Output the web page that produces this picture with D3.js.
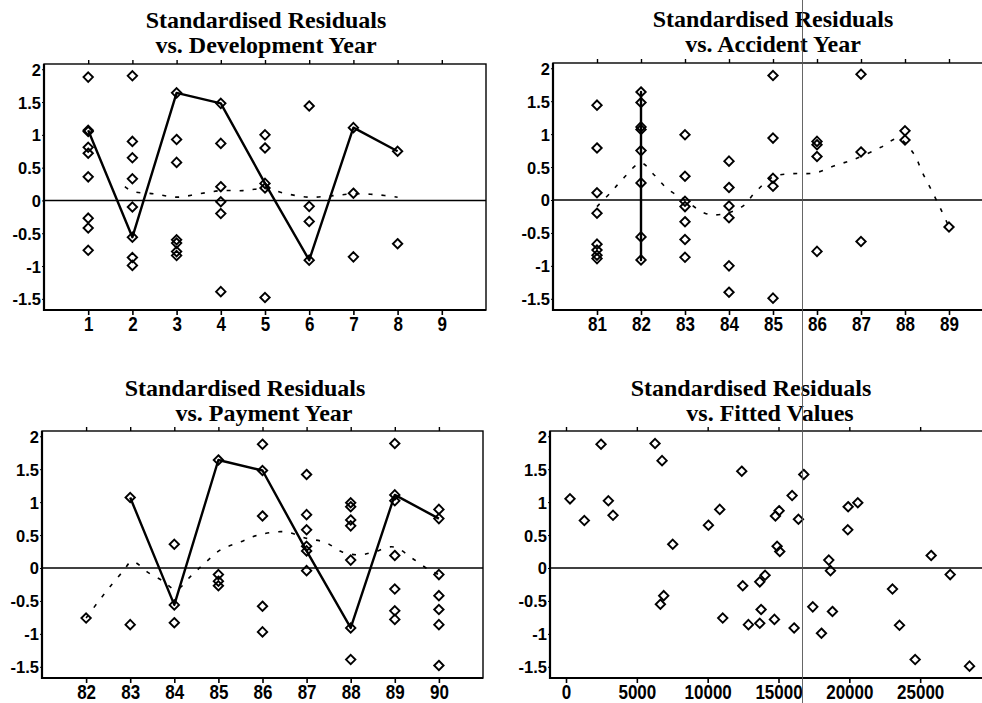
<!DOCTYPE html>
<html>
<head>
<meta charset="utf-8">
<script src="https://cdn.jsdelivr.net/npm/d3@7"></script>
<style>
  html, body { margin: 0; padding: 0; background: #fff; }
  svg { display: block; }
  .title { font-family: 'Liberation Serif', 'Times New Roman', serif; font-weight: bold; font-size: 24px; fill: #000; }
  .ylab text { font-family: 'Liberation Sans', Arial, sans-serif; font-weight: bold; font-size: 16.5px; fill: #000; }
  .xlab text { font-family: 'Liberation Sans', Arial, sans-serif; font-weight: bold; font-size: 20px; fill: #000; }
</style>
</head>
<body>
<div id="chart"></div>
<script>
// residual tick labels (shared by all four panels)
const residTicks = [-1.5, -1, -0.5, 0, 0.5, 1, 1.5, 2];

// x ticks
const devTicks = [1, 2, 3, 4, 5, 6, 7, 8, 9];
const accTicks = [81, 82, 83, 84, 85, 86, 87, 88, 89];
const payTicks = [82, 83, 84, 85, 86, 87, 88, 89, 90];
const fittedTicks = [0, 5000, 10000, 15000, 20000, 25000];

// standardised residuals grouped by development year
const devYearPoints = [
  [1, [1.88, 1.07, 1.05, 0.81, 0.72, 0.36, -0.27, -0.42, -0.76]],
  [2, [1.9, 0.9, 0.65, 0.33, -0.1, -0.56, -0.87, -0.99]],
  [3, [1.64, 0.93, 0.58, -0.6, -0.65, -0.78, -0.84]],
  [4, [1.48, 0.87, 0.21, -0.02, -0.2, -1.39]],
  [5, [1.0, 0.8, 0.26, 0.19, -1.48]],
  [6, [1.44, -0.09, -0.32, -0.91]],
  [7, [1.11, 0.11, -0.86]],
  [8, [0.75, -0.66]],
];

// grouped by accident year
const accYearPoints = [
  [81, [1.44, 0.79, 0.11, -0.2, -0.67, -0.76, -0.84, -0.89]],
  [82, [1.64, 1.48, 1.11, 1.07, 0.75, 0.26, -0.56, -0.91]],
  [83, [0.99, 0.36, -0.02, -0.1, -0.33, -0.6, -0.87]],
  [84, [0.59, 0.19, -0.09, -0.27, -1.0, -1.4]],
  [85, [1.89, 0.94, 0.33, 0.21, -1.49]],
  [86, [0.89, 0.84, 0.66, -0.78]],
  [87, [1.91, 0.73, -0.63]],
  [88, [1.05, 0.91]],
  [89, [-0.41]],
];

// grouped by payment year
const payYearPoints = [
  [82, [-0.76]],
  [83, [1.07, -0.86]],
  [84, [0.36, -0.56, -0.83]],
  [85, [1.64, -0.1, -0.2, -0.27]],
  [86, [1.88, 1.48, 0.79, -0.58, -0.97]],
  [87, [1.42, 0.81, 0.58, 0.33, 0.26, -0.04]],
  [88, [0.99, 0.93, 0.73, 0.64, 0.12, -0.91, -1.39]],
  [89, [1.89, 1.11, 1.02, 0.19, -0.32, -0.65, -0.78]],
  [90, [0.89, 0.75, -0.1, -0.42, -0.63, -0.86, -1.48]],
];

// fitted values and their residuals
const fittedValues = [282, 1295, 2472, 2990, 3319, 6285, 6780, 7533, 6897, 6662,
  10052, 10852, 11064, 12406, 12476, 12876, 13677, 14053, 13771, 13677,
  14713, 14783, 15042, 14901, 15089, 15960, 16784, 16407, 16101, 17420,
  18032, 18550, 18667, 18808, 19891, 19915, 20598, 23046, 23540, 24647,
  25776, 27119, 28484];
const fittedResiduals = [1.05, 0.72, 1.88, 1.02, 0.8, 1.89, 1.63, 0.36, -0.42, -0.55,
  0.65, 0.89, -0.76, 1.47, -0.27, -0.86, -0.21, -0.11, -0.63, -0.84,
  -0.78, 0.79, 0.87, 0.33, 0.25, 1.1, 1.42, 0.74, -0.91, -0.59,
  -0.99, 0.12, -0.04, -0.66, 0.58, 0.93, 0.99, -0.32, -0.87, -1.39,
  0.19, -0.1, -1.49];

// residuals of accident year 82 by development year 1..8 (solid line)
const ay82Residuals = [1.07, -0.56, 1.64, 1.48, 0.26, -0.91, 1.11, 0.75];

// smoothed trends (dashed)
const devSmooth = [[1.83, 0.21], [2, 0.14], [2.5, 0.1], [3, 0.05], [3.5, 0.1], [4, 0.15], [4.5, 0.15],
  [5, 0.18], [5.5, 0.1], [6, 0.05], [6.5, 0.07], [7, 0.1], [7.5, 0.09], [8, 0.05]];
const accSmooth = [[81, -0.1], [81.32, 0.12], [81.6, 0.33], [82, 0.56], [82.3, 0.38], [82.6, 0.17], [83, 0],
  [83.45, -0.2], [83.8, -0.22], [84.3, -0.1], [84.6, 0.12], [85, 0.35], [85.45, 0.4], [85.95, 0.41],
  [86.4, 0.52], [86.85, 0.62], [87.45, 0.8], [87.85, 0.93], [88.2, 0.7], [88.4, 0.41], [88.6, 0.15],
  [88.8, -0.12], [89, -0.41]];
const paySmooth = [[82, -0.76], [82.3, -0.49], [82.56, -0.27], [82.85, -0.04], [83.04, 0.1], [83.41, -0.07],
  [83.75, -0.2], [84.04, -0.33], [84.38, -0.12], [84.7, 0.08], [85.06, 0.28], [85.48, 0.39], [85.9, 0.5],
  [86.5, 0.55], [87, 0.45], [87.42, 0.39], [87.82, 0.24], [88.2, 0.2], [88.51, 0.24], [88.97, 0.32],
  [89.41, 0.14], [89.76, -0.02], [90, -0.1]];

const W = 982, H = 703;
const yDomain = [-1.67, 2.08];

const flat = groups => groups.flatMap(([x, vals]) => vals.map(v => [x, v]));

const panels = [
  {
    title: ['Standardised Residuals', 'vs. Development Year'], titleX: [266, 266], titleY: [28, 53],
    box: { left: 44, right: 486, top: 64, bottom: 310 }, xDomain: [0, 10], ticks: devTicks,
    points: flat(devYearPoints), smooth: devSmooth,
    highlight: ay82Residuals.map((v, i) => [i + 1, v]),
  },
  {
    title: ['Standardised Residuals', 'vs. Accident Year'], titleX: [773, 773], titleY: [27, 52],
    box: { left: 553, right: 993, top: 63, bottom: 310 }, xDomain: [80, 90], ticks: accTicks,
    points: flat(accYearPoints), smooth: accSmooth,
    highlight: ay82Residuals.map(v => [82, v]),
  },
  {
    title: ['Standardised Residuals', 'vs. Payment Year'], titleX: [245, 264], titleY: [396, 421],
    box: { left: 42, right: 483, top: 431, bottom: 678 }, xDomain: [81, 91], ticks: payTicks,
    points: flat(payYearPoints), smooth: paySmooth,
    highlight: ay82Residuals.map((v, i) => [83 + i, v]),
  },
  {
    title: ['Standardised Residuals', 'vs. Fitted Values'], titleX: [751, 770], titleY: [396, 421],
    box: { left: 550, right: 991, top: 431, bottom: 678 }, xDomain: [-1130, 30000], ticks: fittedTicks,
    points: fittedValues.map((f, i) => [f, fittedResiduals[i]]), smooth: null, highlight: null,
  },
];

const svg = d3.select('#chart').append('svg')
  .attr('width', W)
  .attr('height', H)
  .attr('viewBox', `0 0 ${W} ${H}`);

const diamond = r => `M0,${-r}L${r},0L0,${r}L${-r},0Z`;

panels.forEach(p => {
  const b = p.box;
  const x = d3.scaleLinear().domain(p.xDomain).range([b.left, b.right]);
  const y = d3.scaleLinear().domain(yDomain).range([b.bottom, b.top]);
  const g = svg.append('g');

  // title, two lines
  p.title.forEach((t, i) => {
    g.append('text')
      .attr('class', 'title')
      .attr('x', p.titleX[i])
      .attr('y', p.titleY[i])
      .attr('text-anchor', 'middle')
      .text(t);
  });

  // frame
  g.append('rect')
    .attr('x', b.left).attr('y', b.top)
    .attr('width', b.right - b.left).attr('height', b.bottom - b.top)
    .attr('fill', 'none').attr('stroke', '#000').attr('stroke-width', 1.4);
  g.append('path')
    .attr('d', `M${b.left},${b.top}V${b.bottom}H${b.right}`)
    .attr('fill', 'none').attr('stroke', '#000').attr('stroke-width', 2.2);

  // zero line
  g.append('line')
    .attr('x1', b.left).attr('x2', b.right)
    .attr('y1', y(0)).attr('y2', y(0))
    .attr('stroke', '#000').attr('stroke-width', 1.5);

  // bottom axis with labels
  const xb = g.append('g')
    .attr('class', 'xlab')
    .attr('transform', `translate(0,${b.bottom})`)
    .call(d3.axisBottom(x).tickValues(p.ticks).tickSize(5).tickSizeOuter(0).tickFormat(d => String(d)));
  xb.select('.domain').remove();
  xb.selectAll('line').attr('stroke-width', 1.6);
  xb.selectAll('text')
    .attr('y', 21).attr('dy', null)
    .attr('transform', 'scale(0.85,1)');

  // top axis, marks only
  const xt = g.append('g')
    .attr('transform', `translate(0,${b.top})`)
    .call(d3.axisTop(x).tickValues(p.ticks).tickSize(4).tickSizeOuter(0).tickFormat(''));
  xt.select('.domain').remove();
  xt.selectAll('line').attr('stroke-width', 1.4);

  // left axis
  const yl = g.append('g')
    .attr('class', 'ylab')
    .attr('transform', `translate(${b.left},0)`)
    .call(d3.axisLeft(y).tickValues(residTicks).tickSize(2).tickPadding(1).tickSizeOuter(0).tickFormat(d => String(d)));
  yl.select('.domain').remove();
  yl.selectAll('text').attr('dy', '0.36em');

  // dashed smoother
  if (p.smooth) {
    g.append('path')
      .datum(p.smooth)
      .attr('fill', 'none')
      .attr('stroke', '#000')
      .attr('stroke-width', 1.6)
      .attr('stroke-dasharray', '4,9')
      .attr('d', d3.line().x(d => x(d[0])).y(d => y(d[1])).curve(d3.curveCatmullRom.alpha(0.5)));
  }

  // solid highlighted accident year
  if (p.highlight) {
    g.append('path')
      .datum(p.highlight)
      .attr('fill', 'none')
      .attr('stroke', '#000')
      .attr('stroke-width', 2.4)
      .attr('stroke-linejoin', 'round')
      .attr('d', d3.line().x(d => x(d[0])).y(d => y(d[1])));
  }

  // residual diamonds
  g.selectAll('.pt')
    .data(p.points)
    .enter()
    .append('path')
    .attr('class', 'pt')
    .attr('transform', d => `translate(${x(d[0])},${y(d[1])})`)
    .attr('d', diamond(4.7))
    .attr('fill', 'none')
    .attr('stroke', '#000')
    .attr('stroke-width', 1.9);
});

// fold line from the scanned page
svg.append('line')
  .attr('x1', 802.5).attr('x2', 802.5)
  .attr('y1', 0).attr('y2', H)
  .attr('stroke', '#555').attr('stroke-width', 0.9);
</script>
</body>
</html>
